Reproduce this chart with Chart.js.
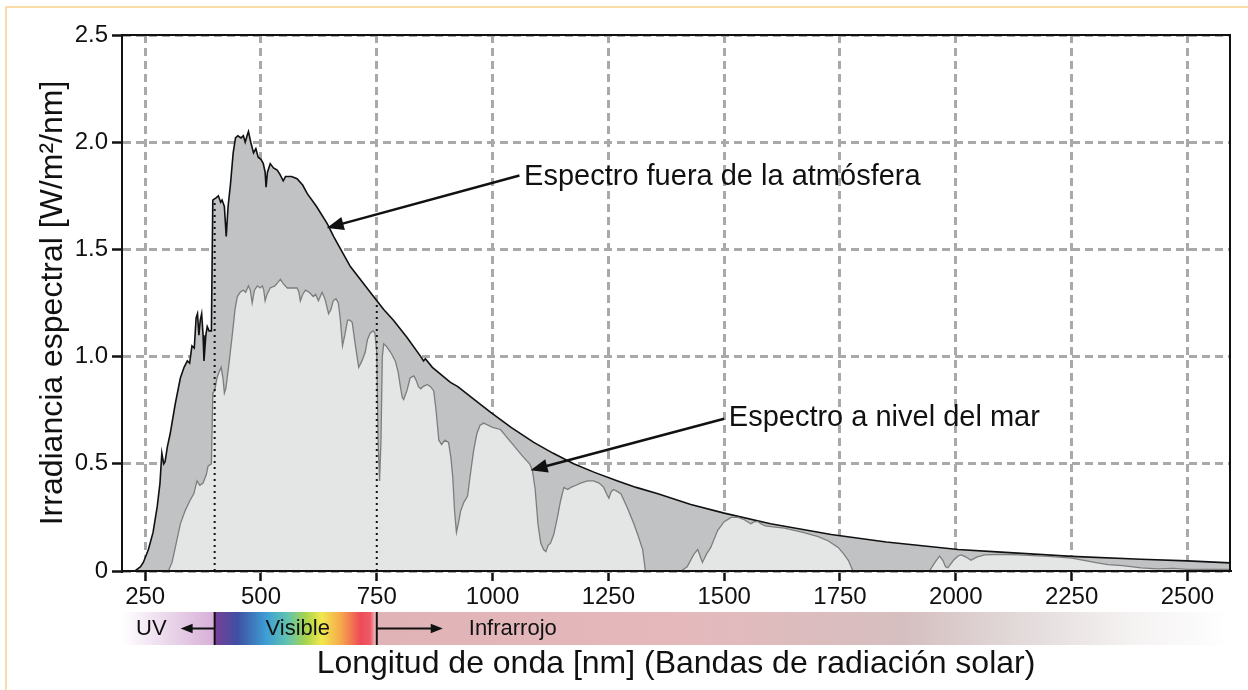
<!DOCTYPE html>
<html lang="es">
<head>
<meta charset="UTF-8">
<title>Espectro solar</title>
<script src="https://cdn.jsdelivr.net/npm/chart.js@4.4.1/dist/chart.umd.min.js"></script>
<style>
    body { margin: 0; background: #fff; }
</style>
</head>
<body>
<canvas id="solar" width="1248" height="690"></canvas>
<script>
// espectro fuera de la atmósfera (nm, W/m2/nm)
const outerWl = [228, 240, 246, 257, 267, 276, 282, 286, 290, 293, 298, 304, 315, 326, 334, 341, 346, 351, 356, 360, 363, 366, 369, 372, 375, 377, 381, 384, 388, 393,
    396, 403, 408, 413, 416, 421, 425, 429, 434, 440, 445, 450, 457, 462, 466, 470, 473, 478, 484, 489, 494, 500, 505, 509, 511, 514, 520, 527, 535, 541,
    548, 553, 559, 566, 578, 590, 600, 620, 643, 650, 657, 675, 693, 718, 743, 765, 786, 815, 845, 851, 855, 870, 909, 925, 960, 996, 1040, 1089, 1130, 1175,
    1220, 1270, 1310, 1357, 1428, 1500, 1600, 1731, 1850, 2005, 2098, 2250, 2400, 2500, 2592];
const outerIrr = [0, 0.02, 0.04, 0.10, 0.18, 0.30, 0.41, 0.55, 0.50, 0.51, 0.58, 0.64, 0.78, 0.90, 0.95, 0.98, 0.97, 1.05, 1.04, 1.18, 1.20, 1.10, 1.17, 1.20, 1.10, 0.98, 1.10, 1.14, 1.12, 1.12,
    1.73, 1.74, 1.75, 1.72, 1.73, 1.70, 1.56, 1.70, 1.80, 1.95, 2.02, 2.03, 2.02, 2.03, 2.00, 2.03, 2.05, 2.00, 1.95, 1.97, 1.93, 1.92, 1.90, 1.86, 1.79, 1.86, 1.90, 1.88, 1.87, 1.85,
    1.82, 1.84, 1.84, 1.84, 1.83, 1.80, 1.76, 1.70, 1.62, 1.59, 1.56, 1.49, 1.42, 1.35, 1.28, 1.22, 1.17, 1.09, 1.00, 0.98, 0.99, 0.95, 0.88, 0.86, 0.80, 0.74, 0.67, 0.60, 0.55, 0.50,
    0.46, 0.42, 0.39, 0.36, 0.31, 0.27, 0.22, 0.17, 0.135, 0.10, 0.088, 0.068, 0.055, 0.047, 0.038];

// espectro a nivel del mar
const seaWl = [300, 308, 316, 326, 336, 347, 355, 362, 368, 375, 382, 386, 393, 396, 400, 405, 410, 414, 418, 421, 424, 430, 438, 444, 449, 455, 462, 467, 473, 477,
    481, 486, 492, 498, 503, 506, 509, 513, 520, 530, 542, 548, 557, 567, 578, 582, 585, 590, 596, 604, 613, 618, 624, 628, 632, 638, 646, 651, 656, 662,
    667, 671, 676, 681, 687, 692, 697, 704, 711, 718, 725, 730, 736, 742, 746, 750, 753, 756, 759, 762, 765, 770, 780, 790, 796, 801, 805, 808, 815, 822,
    830, 835, 840, 845, 850, 859, 866, 873, 878, 884, 890, 897, 905, 910, 914, 918, 922, 927, 931, 938, 946, 952, 959, 966, 973, 981, 990, 1000, 1017, 1040,
    1067, 1080, 1086, 1092, 1098, 1104, 1110, 1115, 1120, 1125, 1132, 1140, 1147, 1154, 1162, 1169, 1180, 1190, 1205, 1218, 1230, 1240, 1246, 1251, 1256, 1261, 1270, 1277, 1290, 1305,
    1315, 1324, 1330, 1407, 1420, 1435, 1443, 1448, 1453, 1462, 1471, 1486, 1500, 1515, 1530, 1543, 1550, 1558, 1565, 1573, 1580, 1589, 1610, 1630, 1670, 1703, 1725, 1746, 1758, 1768,
    1778, 1943, 1955, 1965, 1972, 1978, 1983, 1995, 2005, 2012, 2022, 2033, 2045, 2062, 2100, 2135, 2200, 2250, 2277, 2300, 2328, 2360, 2400, 2436, 2470, 2500, 2592];
const seaIrr = [0, 0.04, 0.12, 0.22, 0.28, 0.33, 0.36, 0.42, 0.40, 0.41, 0.45, 0.49, 0.50, 0.83, 0.84, 0.90, 0.93, 0.95, 0.90, 0.83, 0.85, 0.95, 1.10, 1.22, 1.28, 1.30, 1.31, 1.30, 1.33, 1.31,
    1.25, 1.31, 1.33, 1.32, 1.33, 1.31, 1.26, 1.29, 1.32, 1.33, 1.36, 1.34, 1.32, 1.32, 1.32, 1.30, 1.26, 1.29, 1.31, 1.30, 1.28, 1.29, 1.26, 1.28, 1.30, 1.27, 1.20, 1.22, 1.26, 1.27,
    1.25, 1.18, 1.05, 1.10, 1.17, 1.17, 1.16, 1.05, 0.95, 0.98, 1.02, 1.08, 1.11, 1.12, 1.11, 1.02, 0.60, 0.42, 0.60, 1.00, 1.06, 1.05, 1.02, 0.98, 0.93, 0.86, 0.81, 0.80, 0.84, 0.90,
    0.91, 0.89, 0.86, 0.85, 0.86, 0.87, 0.86, 0.84, 0.75, 0.61, 0.59, 0.61, 0.60, 0.53, 0.44, 0.28, 0.18, 0.23, 0.28, 0.32, 0.35, 0.45, 0.56, 0.64, 0.68, 0.69, 0.68, 0.67, 0.66, 0.60,
    0.53, 0.50, 0.47, 0.38, 0.22, 0.13, 0.10, 0.09, 0.12, 0.13, 0.17, 0.25, 0.33, 0.39, 0.38, 0.39, 0.40, 0.41, 0.42, 0.42, 0.41, 0.39, 0.36, 0.34, 0.37, 0.38, 0.37, 0.36, 0.30, 0.22,
    0.16, 0.10, 0, 0, 0.02, 0.08, 0.10, 0.07, 0.04, 0.08, 0.11, 0.19, 0.23, 0.25, 0.25, 0.24, 0.23, 0.22, 0.23, 0.23, 0.22, 0.21, 0.205, 0.20, 0.18, 0.16, 0.14, 0.11, 0.08, 0.05,
    0, 0, 0.04, 0.07, 0.05, 0.02, 0.015, 0.05, 0.07, 0.075, 0.065, 0.05, 0.065, 0.075, 0.078, 0.075, 0.068, 0.06, 0.05, 0.04, 0.03, 0.025, 0.015, 0.01, 0.012, 0.008, 0.008];

const xTicks = [250, 500, 750, 1000, 1250, 1500, 1750, 2000, 2250, 2500];
const yTicks = [0, 0.5, 1.0, 1.5, 2.0, 2.5];
const bandEdges = [400, 750];   // límites UV / visible / infrarrojo
const bandNames = ["UV", "Visible", "Infrarrojo"];

const FONT = '"Liberation Sans", Arial, sans-serif';
Chart.defaults.font.family = FONT;
Chart.defaults.color = '#111';

function toPoints(xs, ys) {
    return xs.map((v, i) => ({x: v, y: ys[i]}));
}

function outerAt(wl) {
    for (let i = 1; i < outerWl.length; i++) {
        if (outerWl[i] >= wl) {
            let t = (wl - outerWl[i - 1]) / (outerWl[i] - outerWl[i - 1]);
            return outerIrr[i - 1] + t * (outerIrr[i] - outerIrr[i - 1]);
        }
    }
    return 0;
}

// notas con flecha, en coordenadas de datos
const notes = [
    {text: "Espectro fuera de la atmósfera", at: [1068, 1.845], from: [1058, 1.845], to: [642, 1.60]},
    {text: "Espectro a nivel del mar", at: [1510, 0.725], from: [1500, 0.71], to: [1082, 0.47]}
];

function arrow(ctx, x1, y1, x2, y2, head) {
    let ang = Math.atan2(y2 - y1, x2 - x1);
    ctx.beginPath();
    ctx.moveTo(x1, y1);
    ctx.lineTo(x2 - Math.cos(ang) * head * 0.8, y2 - Math.sin(ang) * head * 0.8);
    ctx.stroke();
    ctx.beginPath();
    ctx.moveTo(x2, y2);
    ctx.lineTo(x2 - head * Math.cos(ang) + head * 0.4 * Math.sin(ang), y2 - head * Math.sin(ang) - head * 0.4 * Math.cos(ang));
    ctx.lineTo(x2 - head * Math.cos(ang) - head * 0.4 * Math.sin(ang), y2 - head * Math.sin(ang) + head * 0.4 * Math.cos(ang));
    ctx.closePath();
    ctx.fill();
}

const decor = {
    id: 'decor',
    afterDraw(chart) {
        const ctx = chart.ctx;
        const a = chart.chartArea;
        const x = chart.scales.x, y = chart.scales.y;
        ctx.save();

        // marco
        ctx.strokeStyle = '#111';
        ctx.lineWidth = 2;
        ctx.strokeRect(a.left, a.top, a.right - a.left, a.bottom - a.top);

        // notas
        ctx.fillStyle = '#111';
        ctx.lineWidth = 2.5;
        ctx.font = '29px ' + FONT;
        ctx.textBaseline = 'alphabetic';
        notes.forEach(n => {
            ctx.fillText(n.text, x.getPixelForValue(n.at[0]), y.getPixelForValue(n.at[1]) + 10);
            arrow(ctx, x.getPixelForValue(n.from[0]), y.getPixelForValue(n.from[1]),
                x.getPixelForValue(n.to[0]), y.getPixelForValue(n.to[1]), 17);
        });

        // banda de colores
        const top = a.bottom + 41, h = 33;
        const xl = a.left, xr = a.right;
        const x1 = x.getPixelForValue(bandEdges[0]);
        const x2 = x.getPixelForValue(bandEdges[1]);

        let g = ctx.createLinearGradient(xl, 0, x1, 0);
        g.addColorStop(0, 'rgba(255,255,255,1)');
        g.addColorStop(0.45, '#ecdbec');
        g.addColorStop(1, '#d8afd8');
        ctx.fillStyle = g;
        ctx.fillRect(xl, top, x1 - xl, h);

        g = ctx.createLinearGradient(x1, 0, x2, 0);
        g.addColorStop(0, '#7a3f98');
        g.addColorStop(0.14, '#3f4fa3');
        g.addColorStop(0.32, '#3d9fd3');
        g.addColorStop(0.45, '#62c3b0');
        g.addColorStop(0.56, '#a6d44c');
        g.addColorStop(0.66, '#f1e84c');
        g.addColorStop(0.78, '#f6a84c');
        g.addColorStop(0.9, '#ee4a57');
        g.addColorStop(0.96, '#ee5a66');
        g.addColorStop(1, '#f3d2d5');
        ctx.fillStyle = g;
        ctx.fillRect(x1, top, x2 - x1, h);

        g = ctx.createLinearGradient(x2, 0, xr, 0);
        g.addColorStop(0, '#e0b3b7');
        g.addColorStop(0.35, '#e5b9bc');
        g.addColorStop(0.62, '#d6bfc0');
        g.addColorStop(0.75, '#e2d9d9');
        g.addColorStop(0.88, '#f4f1f1');
        g.addColorStop(1, '#ffffff');
        ctx.fillStyle = g;
        ctx.fillRect(x2, top, xr - x2, h);

        ctx.strokeStyle = '#111';
        ctx.fillStyle = '#111';
        ctx.lineWidth = 2;
        [x1, x2].forEach(px => {
            ctx.beginPath();
            ctx.moveTo(px, top);
            ctx.lineTo(px, top + h);
            ctx.stroke();
        });
        const mid = top + h / 2;
        arrow(ctx, x1, mid, x1 - 34, mid, 12);
        arrow(ctx, x2, mid, x2 + 66, mid, 12);

        ctx.font = '22px ' + FONT;
        ctx.textBaseline = 'middle';
        ctx.textAlign = 'left';
        ctx.fillText(bandNames[0], xl + 14, mid);
        ctx.textAlign = 'center';
        ctx.fillText(bandNames[1], (x1 + x2) / 2 + 2, mid);
        ctx.textAlign = 'left';
        ctx.fillText(bandNames[2], x2 + 92, mid);

        // borde naranja
        ctx.strokeStyle = '#f9cf8e';
        ctx.lineWidth = 1.5;
        ctx.strokeRect(6, 7, 1400, 900);
        ctx.restore();
    }
};

new Chart(document.getElementById('solar'), {
    type: 'line',
    data: {
        datasets: [
            {
                data: [{x: bandEdges[0], y: 0}, {x: bandEdges[0], y: outerAt(bandEdges[0])}],
                borderColor: '#111', borderWidth: 2, borderDash: [2, 4], fill: false
            },
            {
                data: [{x: bandEdges[1], y: 0}, {x: bandEdges[1], y: outerAt(bandEdges[1])}],
                borderColor: '#111', borderWidth: 2, borderDash: [2, 4], fill: false
            },
            {
                label: 'Espectro a nivel del mar',
                data: toPoints(seaWl, seaIrr),
                borderColor: '#7d7d7d', borderWidth: 1.3,
                backgroundColor: '#e4e5e5', fill: 'origin'
            },
            {
                label: 'Espectro fuera de la atmósfera',
                data: toPoints(outerWl, outerIrr),
                borderColor: '#111', borderWidth: 1.6,
                backgroundColor: '#c0c2c3', fill: 'origin'
            }
        ]
    },
    options: {
        responsive: false,
        animation: false,
        layout: {padding: {top: 35, right: 18, left: 0, bottom: 0}},
        elements: {point: {radius: 0}, line: {tension: 0}},
        plugins: {legend: {display: false}, tooltip: {enabled: false}},
        scales: {
            x: {
                type: 'linear',
                min: 200,
                max: 2592,
                afterBuildTicks: s => { s.ticks = xTicks.map(v => ({value: v})); },
                afterFit: s => { s.height = 119; },
                ticks: {font: {size: 24}, color: '#111', padding: 2, autoSkip: false, maxRotation: 0,
                    callback: v => String(v)},
                grid: {color: '#a9a9a9', lineWidth: 3, tickLength: 10, tickColor: '#111', tickWidth: 2.5},
                border: {color: '#111', width: 2, dash: [8, 5]},
                title: {
                    display: true,
                    text: 'Longitud de onda [nm] (Bandas de radiación solar)',
                    font: {size: 32}, color: '#111',
                    padding: {top: 0, bottom: 7}
                }
            },
            y: {
                min: 0,
                max: 2.5,
                afterBuildTicks: s => { s.ticks = yTicks.map(v => ({value: v})); },
                afterFit: s => { s.width = 122; },
                ticks: {
                    font: {size: 24}, color: '#111', padding: 4,
                    callback: v => v === 0 ? '0' : v.toFixed(1)
                },
                grid: {color: '#a9a9a9', lineWidth: 3, tickLength: 10, tickColor: '#111', tickWidth: 2.5},
                border: {color: '#111', width: 2, dash: [8, 5]},
                title: {
                    display: true,
                    text: 'Irradiancia espectral [W/m²/nm]',
                    font: {size: 32}, color: '#111',
                    padding: {top: 34, bottom: 0}
                }
            }
        }
    },
    plugins: [decor]
});
</script>
</body>
</html>
